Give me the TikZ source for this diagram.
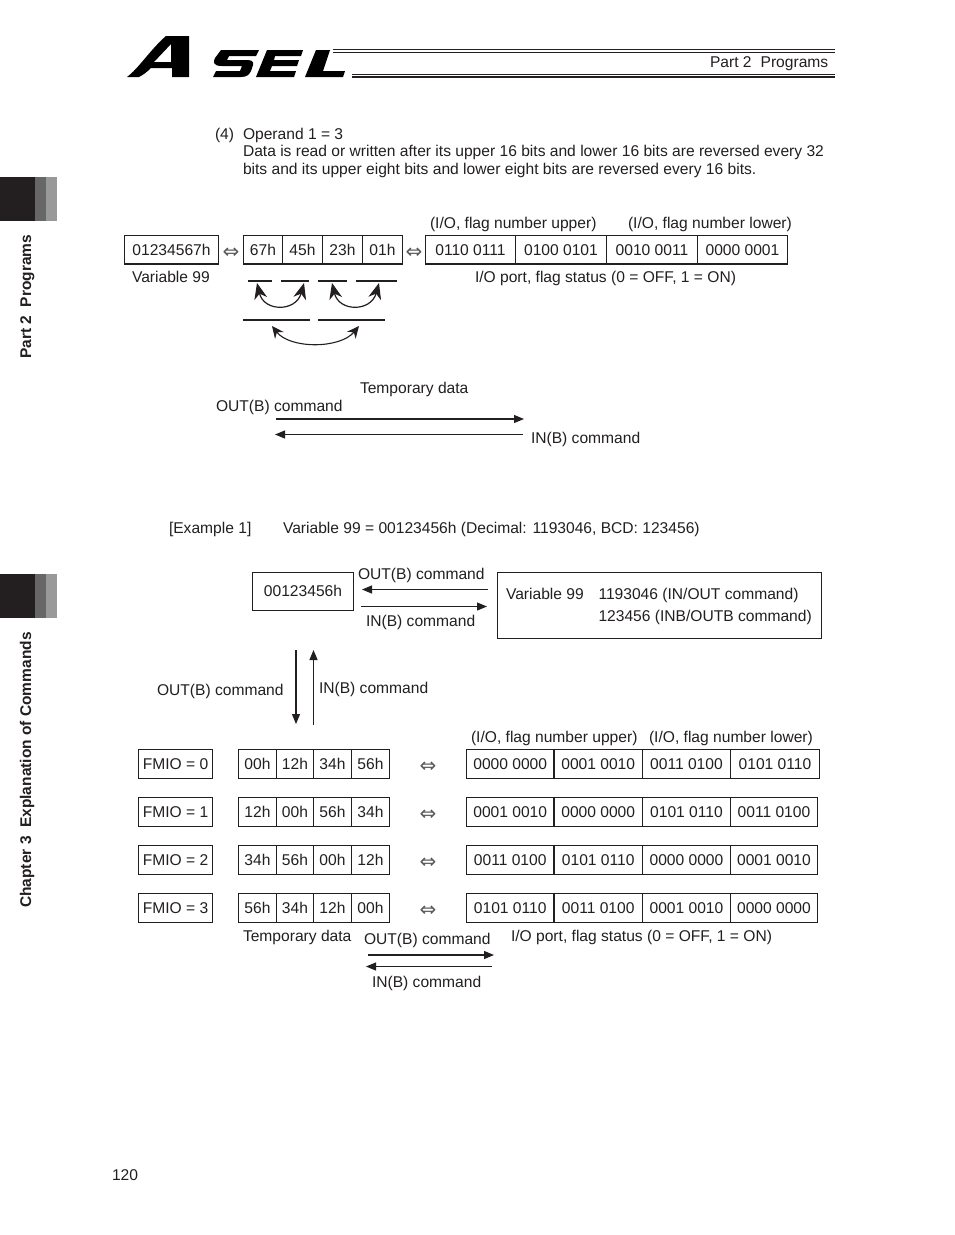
\documentclass[tikz,border=0pt]{standalone}
\usepackage{fontspec}
\setmainfont{Liberation Sans}
\newfontfamily\djv{DejaVu Sans}
\usetikzlibrary{arrows.meta}
\definecolor{ink}{HTML}{231F20}
\tikzset{
  txt/.style={anchor=base west,inner sep=0pt,outer sep=0pt,text=ink,font=\fontsize{15.6}{18}\selectfont},
  cellbox/.style={draw=ink,line width=1.2pt,inner sep=0pt,outer sep=0pt,text=ink,font=\fontsize{15.6}{18}\selectfont},
  arr/.style={draw=ink,line width=1.1pt,-{Triangle[length=10pt,width=8pt]}},
  curvearr/.style={draw=ink,line width=1.2pt,{Stealth[length=16pt,width=13pt,inset=5pt]}-{Stealth[length=16pt,width=13pt,inset=5pt]}},
  curvearrs/.style={draw=ink,line width=1.1pt,{Stealth[length=12pt,width=11pt,inset=4pt]}-{Stealth[length=12pt,width=11pt,inset=4pt]}},
  bar/.style={draw=ink,line width=2pt},
  dbl/.style={inner sep=0pt,text=gray!70!black,font=\djv\fontsize{20}{20}\selectfont},
  sidetxt/.style={anchor=base west,rotate=90,inner sep=0pt,text=ink,font=\bfseries\fontsize{15.5}{16}\selectfont},
  logo/.style={fill=black,draw=none,even odd rule},
  hline/.style={draw=ink}
}
\newcommand{\cellb}[6]{\node[cellbox,minimum width={(#3-#2)*1pt},minimum height={(#5-#4)*1pt}] (#1) at ({(#2+#3)/2},{(#4+#5)/2}) {#6};}
\begin{document}
\begin{tikzpicture}[x=1pt,y=-1pt]
\useasboundingbox[fill=white] (0,0) rectangle (954,1235);
% side tabs
\fill[ink] (0,177) rectangle (35,221); \fill[gray!75!ink] (35,177) rectangle (46,221); \fill[gray!80] (46,177) rectangle (57,221);
\fill[ink] (0,574) rectangle (35,618); \fill[gray!75!ink] (35,574) rectangle (46,618); \fill[gray!80] (46,574) rectangle (57,618);
\node[sidetxt] (sideA) at (31,359) {Part 2\hspace{0.55em}Programs};
\node[sidetxt] (sideB) at (31,908) {Chapter 3\hspace{0.55em}Explanation of Commands};
% logo
\path[logo] (127,77) .. controls (139,68) and (150,50) .. (166,36) -- (189,36) -- (189,77) -- (172,77) -- (172,68) -- (151,68) .. controls (147,72) and (143,75) .. (139,77) -- cycle
  (171,44) -- (154,62) -- (171,62) -- cycle;
\path[logo] (221,50) -- (259,50) -- (256,56) -- (229,56) -- (227,60) -- (248,60) .. controls (254,60) and (254,64) .. (252,68) .. controls (250,75) and (247,77) .. (241,77) -- (213,77) -- (216,71) -- (240,71) -- (242,66) -- (222,66) .. controls (213,66) and (213,62) .. (215,58) -- cycle;
\path[logo] (267,50) -- (303,50) -- (301,56) -- (275,56) -- (274,60) -- (299,60) -- (297,66) -- (272,66) -- (270,71) -- (296,71) -- (294,77) -- (256,77) -- cycle;
\path[logo] (316,50) -- (330,50) -- (323,71) -- (345,71) -- (343,77) -- (305,77) -- cycle;
% header lines
\draw[hline,line width=1.6pt] (333,49.5) -- (835,49.5);
\draw[hline,line width=.7pt] (333,52) -- (835,52);
\draw[hline,line width=.7pt] (352,74.5) -- (835,74.5);
\draw[hline,line width=1.6pt] (352,77) -- (835,77);
\node[txt] (hdr) at (710,67) {Part 2\hspace{0.3em} Programs};
% intro
\node[txt] (t4) at (215,139) {(4)};
\node[txt] (t5) at (243,139) {Operand 1 = 3};
\node[txt] (t6) at (243,156) {Data is read or written after its upper 16 bits and lower 16 bits are reversed every 32};
\node[txt] (t7) at (243,174) {bits and its upper eight bits and lower eight bits are reversed every 16 bits.};
% first diagram
\node[txt] (u1) at (430,228) {(I/O, flag number upper)};
\node[txt] (l1) at (628,228) {(I/O, flag number lower)};
\cellb{v1}{124.5}{218.5}{235.5}{264}{01234567h}
\node[dbl] (d1) at (231,253) {⇔};
\cellb{a1}{243.5}{282.5}{235.5}{264}{67h}
\cellb{a2}{282.5}{322.5}{235.5}{264}{45h}
\cellb{a3}{322.5}{362.5}{235.5}{264}{23h}
\cellb{a4}{362.5}{402.5}{235.5}{264}{01h}
\node[dbl] (d2) at (414,253) {⇔};
\cellb{b1}{425.5}{515.5}{235.5}{264}{0110 0111}
\cellb{b2}{515.5}{606.5}{235.5}{264}{0100 0101}
\cellb{b3}{606.5}{697.5}{235.5}{264}{0010 0011}
\cellb{b4}{697.5}{787.5}{235.5}{264}{0000 0001}
\node[txt] (v99) at (132,282) {Variable 99};
\node[txt] (ios) at (475,282) {I/O port, flag status (0 = OFF, 1 = ON)};
\coordinate (p1) at (248,280.5); \coordinate (p2) at (272,280.5);
\coordinate (p3) at (281,280.5); \coordinate (p4) at (309,280.5);
\coordinate (p5) at (318,280.5); \coordinate (p6) at (347,280.5);
\coordinate (p7) at (356,280.5); \coordinate (p8) at (397,280.5);
\coordinate (q1) at (243,319.5); \coordinate (q2) at (310,319.5);
\coordinate (q3) at (318,319.5); \coordinate (q4) at (385,319.5);
\draw[bar] (p1)--(p2); \draw[bar] (p3)--(p4); \draw[bar] (p5)--(p6); \draw[bar] (p7)--(p8);
\draw[bar] (q1)--(q2); \draw[bar] (q3)--(q4);
\coordinate (c1) at (257,283); \coordinate (c2) at (304,283);
\coordinate (c3) at (332,283); \coordinate (c4) at (379,283);
\coordinate (c5) at (272,326); \coordinate (c6) at (359,326);
\draw[curvearr] (c1) .. controls (264,312) and (296,312) .. (c2);
\draw[curvearr] (c3) .. controls (339,312) and (371,312) .. (c4);
\draw[curvearrs] (c5) .. controls (290,349) and (340,349) .. (c6);
\node[txt] (td1) at (360,393) {Temporary data};
\node[txt] (out1) at (216,411) {OUT(B) command};
\node[txt] (in1) at (531,443) {IN(B) command};
\coordinate (e1) at (276,419); \coordinate (e2) at (524,419);
\coordinate (e3) at (523,434.5); \coordinate (e4) at (275,434.5);
\draw[arr] (e1)--(e2); \draw[arr] (e3)--(e4);
% example
\node[txt] (ex) at (169,533) {[Example 1]};
\node[txt] (ex2) at (283,533) {Variable 99 = 00123456h (Decimal: 1193046, BCD: 123456)};
\cellb{k}{252.5}{353.5}{572.5}{610.5}{\raisebox{1pt}{00123456h}}
\node[draw=ink,line width=1.2pt,minimum width=324pt,minimum height=66pt,inner sep=0pt,outer sep=0pt] (big) at (659.5,605.5) {};
\node[txt] (bg1) at (506,599) {Variable 99};
\node[txt] (bg2) at (598.5,599) {1193046 (IN/OUT command)};
\node[txt] (bg3) at (598.5,621) {123456 (INB/OUTB command)};
\node[txt] (o2) at (358,579) {OUT(B) command};
\node[txt] (i2) at (366,626) {IN(B) command};
\coordinate (f1) at (488,589.5); \coordinate (f2) at (362,589.5);
\coordinate (f3) at (361,606.5); \coordinate (f4) at (487,606.5);
\draw[arr] (f1)--(f2); \draw[arr] (f3)--(f4);
\coordinate (g1) at (296,650); \coordinate (g2) at (296,724);
\coordinate (g3) at (313.5,725); \coordinate (g4) at (313.5,650);
\draw[arr] (g1)--(g2); \draw[arr] (g3)--(g4);
\node[txt] (o3) at (157,695) {OUT(B) command};
\node[txt] (i3) at (319,693) {IN(B) command};
\node[txt] (u2) at (471,742) {(I/O, flag number upper)};
\node[txt] (l2) at (649,742) {(I/O, flag number lower)};
% rows
\newcommand{\rowb}[9]{%
 \cellb{fm#1}{138.5}{212.5}{#2}{#2+29}{FMIO = #1}
 \cellb{ta#1}{238.5}{276.5}{#2}{#2+29}{#3}
 \cellb{tb#1}{276.5}{313.5}{#2}{#2+29}{#4}
 \cellb{tc#1}{313.5}{351.5}{#2}{#2+29}{#5}
 \cellb{td#1}{351.5}{389.5}{#2}{#2+29}{#6}
 \node[dbl] (dd#1) at (428,{#2+18}) {⇔};
 \cellb{ia#1}{466.5}{554}{#2}{#2+29}{#7}
 \cellb{ib#1}{554}{642.5}{#2}{#2+29}{#8}
 \cellb{ic#1}{642.5}{730.5}{#2}{#2+29}{#9}
}
\rowb{0}{749.5}{00h}{12h}{34h}{56h}{0000 0000}{0001 0010}{0011 0100}
\cellb{id0}{730.5}{819.5}{749.5}{778.5}{0101 0110}
\rowb{1}{797.5}{12h}{00h}{56h}{34h}{0001 0010}{0000 0000}{0101 0110}
\cellb{id1}{730.5}{817.5}{797.5}{826.5}{0011 0100}
\rowb{2}{845.5}{34h}{56h}{00h}{12h}{0011 0100}{0101 0110}{0000 0000}
\cellb{id2}{730.5}{817.5}{845.5}{874.5}{0001 0010}
\rowb{3}{893.5}{56h}{34h}{12h}{00h}{0101 0110}{0011 0100}{0001 0010}
\cellb{id3}{730.5}{817.5}{893.5}{922.5}{0000 0000}
\node[txt] (td2) at (243,941) {Temporary data};
\node[txt] (o4) at (364,944) {OUT(B) command};
\node[txt] (ios2) at (511,941) {I/O port, flag status (0 = OFF, 1 = ON)};
\node[txt] (i4) at (372,987) {IN(B) command};
\coordinate (h1) at (368,955); \coordinate (h2) at (494,955);
\coordinate (h3) at (492,966.5); \coordinate (h4) at (366,966.5);
\draw[arr] (h1)--(h2); \draw[arr] (h3)--(h4);
\node[txt] (pg) at (112,1180) {120};
\end{tikzpicture}
\end{document}
